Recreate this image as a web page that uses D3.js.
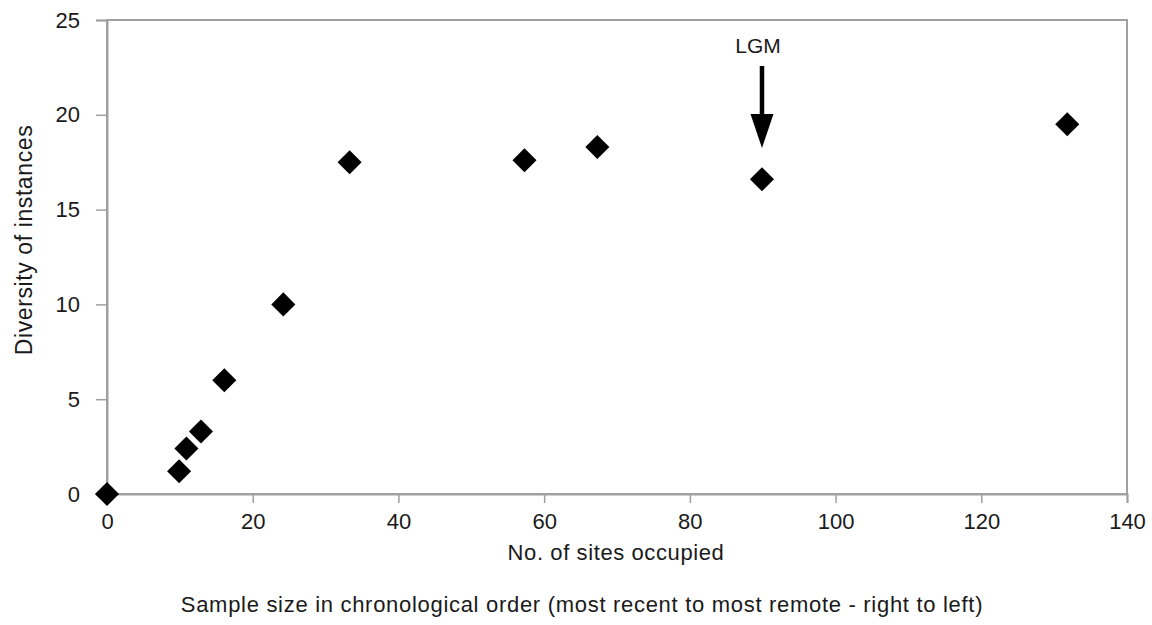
<!DOCTYPE html>
<html><head><meta charset="utf-8">
<script src="https://cdn.jsdelivr.net/npm/d3@7"></script>
<style>body{margin:0;background:#fff}svg{display:block}text{font-family:"Liberation Sans",Arial,sans-serif;fill:#1a1a1a}</style>
</head><body>
<svg id="c" width="1152" height="625"></svg>
<script>
const sites = [0, 9.9, 10.9, 12.9, 16.1, 24.2, 33.3, 57.3, 67.3, 89.9, 131.8];
const diversity = [0, 1.2, 2.4, 3.3, 6.0, 10.0, 17.5, 17.6, 18.3, 16.6, 19.5];
const xTicks = [0, 20, 40, 60, 80, 100, 120, 140];
const yTicks = [0, 5, 10, 15, 20, 25];
const annotation = {label: "LGM", x: 89.9};

const svg = d3.select("#c");
const m = {l:107, r:1127, t:20, b:494};
const x = d3.scaleLinear().domain([0,140]).range([m.l, m.r]);
const y = d3.scaleLinear().domain([0,25]).range([m.b, m.t]);
const axCol = "#a0a0a0";

svg.append("rect").attr("x",m.l).attr("y",m.t).attr("width",m.r-m.l).attr("height",m.b-m.t)
  .attr("fill","none").attr("stroke",axCol).attr("stroke-width",2);

const xa = svg.append("g").attr("transform",`translate(0,${m.b})`)
  .call(d3.axisBottom(x).tickValues(xTicks).tickSize(9).tickPadding(10));
const ya = svg.append("g").attr("transform",`translate(${m.l},0)`)
  .call(d3.axisLeft(y).tickValues(yTicks).tickSize(11).tickPadding(16));
[xa,ya].forEach(a=>{
  a.select(".domain").attr("stroke",axCol).attr("stroke-width",2);
  a.selectAll(".tick line").attr("stroke",axCol).attr("stroke-width",1.5);
  a.selectAll(".tick text").style("font-size","22px").attr("fill","#1a1a1a")
   .style("font-family",'"Liberation Sans",Arial,sans-serif');
});

svg.append("g").selectAll("path").data(sites.map((s,i)=>[s,diversity[i]])).join("path")
  .attr("transform",d=>`translate(${x(d[0])},${y(d[1])}) rotate(45)`)
  .attr("d",d3.symbol().type(d3.symbolSquare).size(290)).attr("fill","#000");

const ax = x(annotation.x);
svg.append("text").attr("x",ax-4).attr("y",53).attr("text-anchor","middle").style("font-size","21px").text(annotation.label);
svg.append("line").attr("x1",ax).attr("x2",ax).attr("y1",66).attr("y2",120).attr("stroke","#000").attr("stroke-width",4.5);
svg.append("path").attr("d",`M${ax-11.5},114 L${ax+11.5},114 L${ax},148 Z`).attr("fill","#000");

svg.append("text").attr("transform",`translate(32,240) rotate(-90)`).attr("text-anchor","middle")
  .style("font-size","23px").style("letter-spacing","0.6px").text("Diversity of instances");
svg.append("text").attr("x",616).attr("y",560).attr("text-anchor","middle")
  .style("font-size","22px").style("letter-spacing","0.6px").text("No. of sites occupied");
svg.append("text").attr("x",582).attr("y",612).attr("text-anchor","middle")
  .style("font-size","22px").style("letter-spacing","0.7px").text("Sample size in chronological order (most recent to most remote - right to left)");
</script>
</body></html>
